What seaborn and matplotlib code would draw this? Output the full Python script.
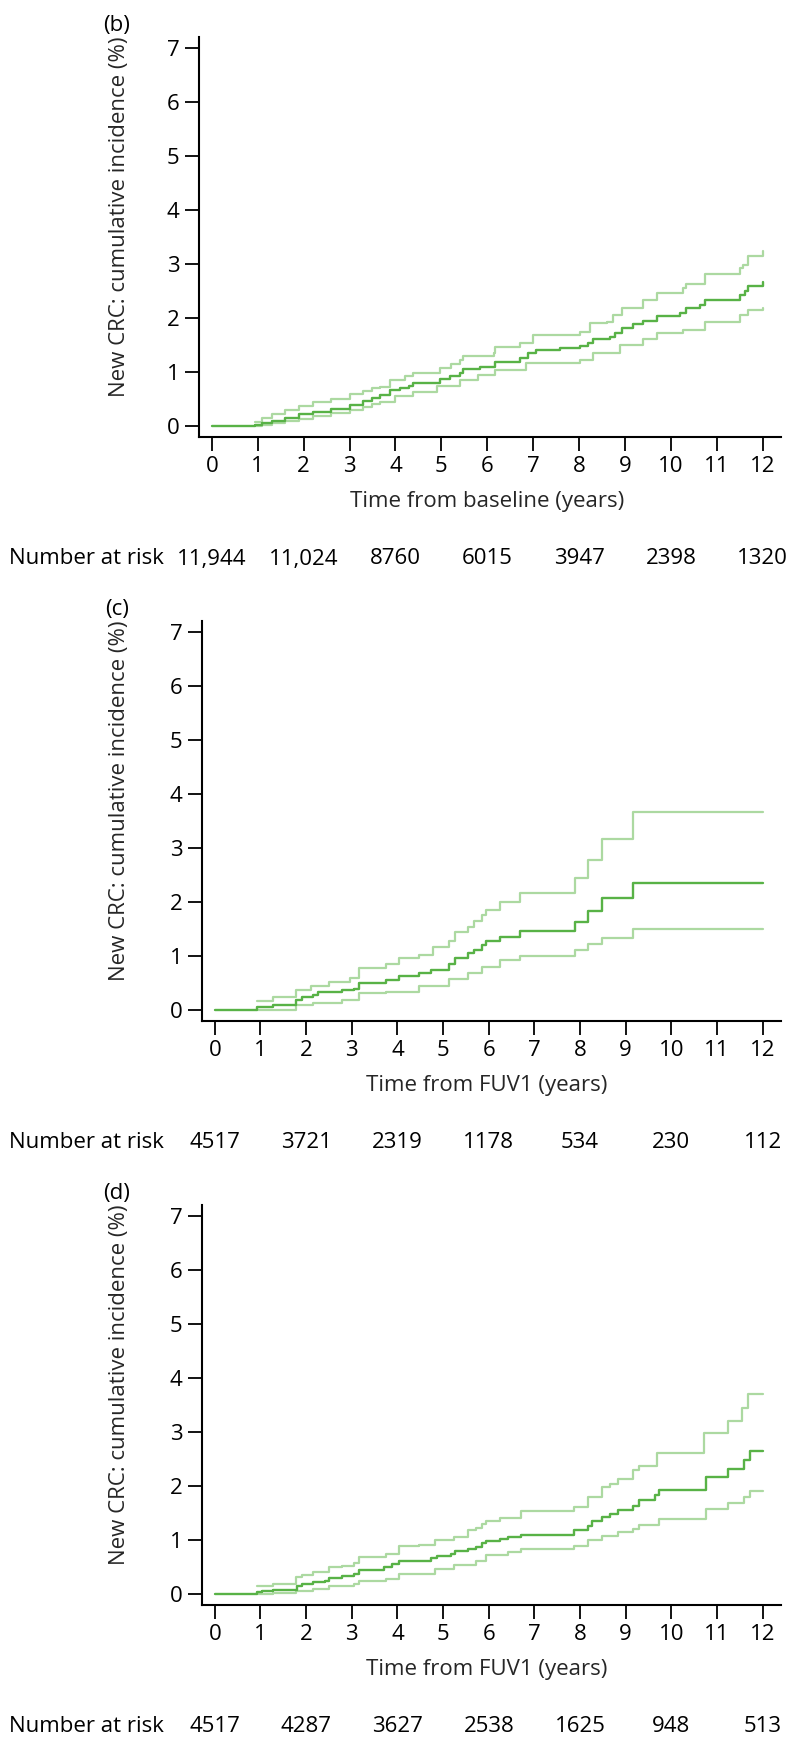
import matplotlib
matplotlib.use("Agg")
import matplotlib.pyplot as plt
import matplotlib.transforms as mtransforms
import pandas as pd
import seaborn as sns

# ---------------- data ----------------
risk_times = [0, 2, 4, 6, 8, 10, 12]

# Panel (b) - time from baseline
b_est_t = [0, 0.95, 1.1, 1.3, 1.6, 1.9, 2.2, 2.6, 3.0, 3.3, 3.5, 3.66, 3.88, 4.1, 4.3, 4.39, 4.97, 5.18, 5.40,
           5.48, 5.84, 6.17, 6.71, 6.89, 7.07, 7.58, 8.02, 8.20, 8.31, 8.67, 8.78, 8.93, 9.18, 9.40, 9.69,
           10.20, 10.34, 10.63, 10.74, 11.50, 11.61, 11.68, 12.0]
b_est_v = [0, 0.02, 0.06, 0.10, 0.16, 0.22, 0.27, 0.32, 0.40, 0.47, 0.52, 0.57, 0.67, 0.71, 0.74, 0.80, 0.87,
           0.93, 0.98, 1.05, 1.10, 1.19, 1.27, 1.35, 1.41, 1.45, 1.49, 1.54, 1.61, 1.65, 1.73, 1.81, 1.89,
           1.95, 2.04, 2.10, 2.19, 2.24, 2.33, 2.43, 2.50, 2.59, 2.67]
b_hi_t = [0.95, 1.1, 1.3, 1.6, 1.9, 2.2, 2.6, 3.0, 3.3, 3.5, 3.66, 3.88, 4.2, 4.39, 4.97, 5.2, 5.40, 5.48,
          6.14, 6.17, 6.71, 7.0, 8.02, 8.23, 8.60, 8.74, 8.93, 9.40, 9.69, 10.27, 10.34, 10.74, 11.50, 11.58,
          11.68, 12.0]
b_hi_v = [0.08, 0.15, 0.22, 0.30, 0.38, 0.44, 0.50, 0.60, 0.66, 0.70, 0.73, 0.85, 0.92, 0.99, 1.07, 1.15,
          1.22, 1.30, 1.36, 1.47, 1.53, 1.69, 1.75, 1.90, 1.93, 2.06, 2.18, 2.33, 2.46, 2.55, 2.63, 2.81,
          2.92, 2.98, 3.15, 3.24]
b_lo_t = [0.95, 1.1, 1.3, 1.6, 1.9, 2.2, 2.6, 3.0, 3.3, 3.5, 3.66, 4.0, 4.39, 4.9, 5.40, 5.8, 6.17, 6.85,
          8.02, 8.31, 8.89, 9.40, 9.69, 10.27, 10.74, 11.50, 11.68, 12.0]
b_lo_v = [0.0, 0.02, 0.05, 0.09, 0.14, 0.19, 0.24, 0.30, 0.36, 0.41, 0.45, 0.55, 0.64, 0.74, 0.85, 0.95,
          1.04, 1.17, 1.22, 1.35, 1.50, 1.62, 1.72, 1.78, 1.93, 2.06, 2.15, 2.18]
b_risk = ["11,944", "11,024", "8760", "6015", "3947", "2398", "1320"]

# Panel (c) - time from FUV1
c_est_t = [0, 0.93, 1.27, 1.78, 1.90, 2.16, 2.25, 2.78, 3.05, 3.15, 3.76, 4.04, 4.47, 4.74, 5.14, 5.26, 5.54,
           5.68, 5.85, 5.94, 6.25, 6.68, 7.88, 8.17, 8.48, 9.15, 12.0]
c_est_v = [0, 0.05, 0.09, 0.185, 0.25, 0.28, 0.34, 0.37, 0.40, 0.51, 0.56, 0.64, 0.68, 0.74, 0.85, 0.97, 1.05,
           1.11, 1.20, 1.28, 1.36, 1.46, 1.64, 1.83, 2.07, 2.36, 2.36]
c_hi_t = [0.93, 1.27, 1.78, 2.11, 2.51, 2.96, 3.15, 3.76, 4.04, 4.47, 4.78, 5.14, 5.26, 5.54, 5.68, 5.85, 5.94,
          6.25, 6.68, 7.88, 8.17, 8.48, 9.15, 12.0]
c_hi_v = [0.17, 0.235, 0.37, 0.45, 0.525, 0.59, 0.78, 0.85, 0.97, 1.02, 1.17, 1.28, 1.45, 1.54, 1.65, 1.76,
          1.85, 2.01, 2.16, 2.45, 2.78, 3.16, 3.66, 3.66]
c_lo_t = [0.93, 1.78, 2.16, 2.78, 3.15, 3.76, 4.47, 5.14, 5.54, 5.85, 6.25, 6.68, 7.88, 8.17, 8.48, 9.15, 12.0]
c_lo_v = [0.01, 0.105, 0.136, 0.185, 0.31, 0.34, 0.45, 0.57, 0.68, 0.80, 0.93, 1.01, 1.11, 1.22, 1.34, 1.50,
          1.50]
c_risk = ["4517", "3721", "2319", "1178", "534", "230", "112"]

# Panel (d) - time from FUV1
d_est_t = [0, 0.93, 1.04, 1.27, 1.80, 1.90, 2.16, 2.42, 2.51, 2.78, 3.05, 3.15, 3.58, 3.71, 3.89, 4.04, 4.47,
           4.74, 4.87, 5.18, 5.27, 5.54, 5.72, 5.85, 5.94, 6.25, 6.43, 6.70, 7.86, 8.17, 8.26, 8.48, 8.66,
           8.84, 9.15, 9.28, 9.64, 9.73, 10.75, 11.24, 11.60, 11.73, 12.0]
d_est_v = [0, 0.04, 0.056, 0.08, 0.16, 0.19, 0.22, 0.25, 0.30, 0.33, 0.38, 0.44, 0.45, 0.50, 0.55, 0.605, 0.62,
           0.67, 0.70, 0.735, 0.80, 0.84, 0.88, 0.94, 0.99, 1.025, 1.056, 1.10, 1.18, 1.27, 1.36, 1.43, 1.49,
           1.55, 1.64, 1.735, 1.83, 1.92, 2.167, 2.31, 2.475, 2.648, 2.648]
d_hi_t = [0.93, 1.27, 1.78, 1.90, 2.16, 2.51, 2.78, 3.05, 3.15, 3.76, 4.04, 4.47, 4.83, 5.23, 5.54, 5.72, 5.85,
          5.94, 6.25, 6.70, 7.86, 8.17, 8.48, 8.66, 8.84, 9.15, 9.28, 9.68, 10.72, 11.23, 11.55, 11.68, 12.0]
d_hi_v = [0.16, 0.19, 0.315, 0.364, 0.407, 0.50, 0.53, 0.574, 0.685, 0.735, 0.883, 0.914, 0.994, 1.056, 1.18,
          1.23, 1.30, 1.36, 1.41, 1.53, 1.61, 1.80, 1.98, 2.04, 2.14, 2.29, 2.38, 2.61, 2.98, 3.20, 3.44, 3.70,
          3.70]
d_lo_t = [0.93, 1.27, 1.78, 2.16, 2.51, 3.05, 3.15, 3.76, 4.04, 4.83, 5.23, 5.72, 5.94, 6.43, 6.70, 7.86, 8.17,
          8.48, 8.84, 9.15, 9.28, 9.73, 10.75, 11.24, 11.60, 11.73, 12.0]
d_lo_v = [0.006, 0.02, 0.068, 0.10, 0.148, 0.19, 0.253, 0.284, 0.377, 0.469, 0.531, 0.611, 0.716, 0.778, 0.84,
          0.90, 0.994, 1.068, 1.148, 1.21, 1.272, 1.395, 1.58, 1.685, 1.796, 1.90, 1.90]
d_risk = ["4517", "4287", "3627", "2538", "1625", "948", "513"]

panel_labels = ["(b)", "(c)", "(d)"]
x_titles = ["Time from baseline (years)", "Time from FUV1 (years)", "Time from FUV1 (years)"]
y_title = "New CRC: cumulative incidence (%)"
risk_title = "Number at risk"

# ---------------- style ----------------
sns.set_style("ticks")
plt.rcParams['font.family'] = ['Open Sans', 'DejaVu Sans']
plt.rcParams['text.color'] = 'black'
plt.rcParams['xtick.color'] = 'black'
plt.rcParams['ytick.color'] = 'black'

DARK = "#58b246"
LIGHT = "#acd9a1"
FS = 16

W, H = 792, 1737
fig = plt.figure(figsize=(W / 100, H / 100), dpi=100)

panels = [
    (b_est_t, b_est_v, b_hi_t, b_hi_v, b_lo_t, b_lo_v, b_risk),
    (c_est_t, c_est_v, c_hi_t, c_hi_v, c_lo_t, c_lo_v, c_risk),
    (d_est_t, d_est_v, d_hi_t, d_hi_v, d_lo_t, d_lo_v, d_risk),
]

for i, (et, ev, ht, hv, lt, lv, risk) in enumerate(panels):
    off = 584 * i
    left = 199 if i == 0 else 202
    right = 781
    top = 37 + off
    bottom = 437 + off
    ax = fig.add_axes([left / W, 1 - bottom / H, (right - left) / W, (bottom - top) / H])

    for t, v, col, lw in [(ht, hv, LIGHT, 1.6), (lt, lv, LIGHT, 1.6), (et, ev, DARK, 1.7)]:
        df = pd.DataFrame({"t": t, "v": v})
        sns.lineplot(data=df, x="t", y="v", ax=ax, color=col, lw=lw, drawstyle="steps-post",
                     estimator=None, sort=False, legend=False)

    ax.set_xlim(-0.28, 12.4)
    ax.set_ylim(-0.2, 7.2)
    ax.set_xticks(range(13))
    ax.set_yticks(range(8))
    ax.tick_params(axis="both", length=10, width=1.3, labelsize=FS, pad=4, color="black")
    for s in ["top", "right"]:
        ax.spines[s].set_visible(False)
    for s in ["left", "bottom"]:
        ax.spines[s].set_linewidth(1.5)
        ax.spines[s].set_color("black")

    ax.set_xlabel(x_titles[i], fontsize=FS)
    ax.xaxis.label.set_va("center")
    ax.xaxis.set_label_coords((487 - left) / (right - left), -(502 - 437) / 400)
    ax.set_ylabel(y_title, fontsize=FS)
    ax.yaxis.label.set_va("center")
    ax.yaxis.set_label_coords(-(left - 120) / (right - left), 0.55)

    trans = mtransforms.blended_transform_factory(ax.transData, ax.transAxes)
    for xt, r in zip(risk_times, risk):
        ax.text(xt, -(559 - 437) / 400, r, transform=trans, ha="center", va="center", fontsize=FS)
    fig.text(9 / W, 1 - (559 + off) / H, risk_title, ha="left", va="center", fontsize=FS)
    fig.text(117 / W, 1 - (26 + off) / H, panel_labels[i], ha="center", va="center", fontsize=FS)

fig.savefig("out.png", dpi=100, facecolor="white")
